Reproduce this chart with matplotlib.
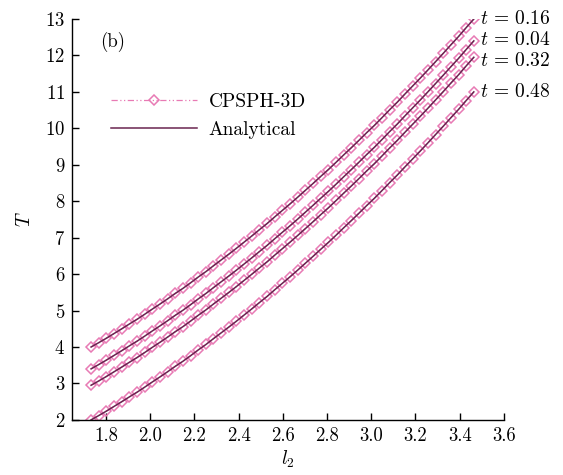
import numpy as np
import matplotlib
matplotlib.use('Agg')
import matplotlib.pyplot as plt

plt.rcParams['font.family'] = 'serif'
plt.rcParams['font.serif'] = ['cmr10', 'DejaVu Serif']
plt.rcParams['mathtext.fontset'] = 'cm'
plt.rcParams['axes.formatter.use_mathtext'] = True

l2 = [1.732, 1.767, 1.801, 1.836, 1.871, 1.905, 1.940, 1.975, 2.009, 2.044,
      2.078, 2.113, 2.148, 2.182, 2.217, 2.252, 2.286, 2.321, 2.356, 2.390,
      2.425, 2.460, 2.494, 2.529, 2.563, 2.598, 2.633, 2.667, 2.702, 2.737,
      2.771, 2.806, 2.841, 2.875, 2.910, 2.944, 2.979, 3.014, 3.048, 3.083,
      3.118, 3.152, 3.187, 3.222, 3.256, 3.291, 3.326, 3.360, 3.395, 3.429,
      3.464]

T_016 = [4.00, 4.12, 4.24, 4.37, 4.50, 4.63, 4.76, 4.90, 5.04, 5.18,
         5.32, 5.47, 5.61, 5.76, 5.92, 6.07, 6.23, 6.39, 6.55, 6.71,
         6.88, 7.05, 7.22, 7.39, 7.57, 7.75, 7.93, 8.11, 8.30, 8.49,
         8.68, 8.87, 9.07, 9.27, 9.47, 9.67, 9.88, 10.08, 10.29, 10.51,
         10.72, 10.94, 11.16, 11.38, 11.60, 11.83, 12.06, 12.29, 12.52, 12.76,
         13.00]
T_004 = [3.40, 3.52, 3.64, 3.77, 3.90, 4.03, 4.16, 4.30, 4.44, 4.58,
         4.72, 4.87, 5.01, 5.16, 5.32, 5.47, 5.63, 5.79, 5.95, 6.11,
         6.28, 6.45, 6.62, 6.79, 6.97, 7.15, 7.33, 7.51, 7.70, 7.89,
         8.08, 8.27, 8.47, 8.67, 8.87, 9.07, 9.28, 9.48, 9.69, 9.91,
         10.12, 10.34, 10.56, 10.78, 11.00, 11.23, 11.46, 11.69, 11.92, 12.16,
         12.40]
T_032 = [2.95, 3.07, 3.19, 3.32, 3.45, 3.58, 3.71, 3.85, 3.99, 4.13,
         4.27, 4.42, 4.56, 4.71, 4.87, 5.02, 5.18, 5.34, 5.50, 5.66,
         5.83, 6.00, 6.17, 6.34, 6.52, 6.70, 6.88, 7.06, 7.25, 7.44,
         7.63, 7.82, 8.02, 8.22, 8.42, 8.62, 8.83, 9.03, 9.24, 9.46,
         9.67, 9.89, 10.11, 10.33, 10.55, 10.78, 11.01, 11.24, 11.47, 11.71,
         11.95]
T_048 = [2.00, 2.12, 2.24, 2.37, 2.50, 2.63, 2.76, 2.90, 3.04, 3.18,
         3.32, 3.47, 3.61, 3.76, 3.92, 4.07, 4.23, 4.39, 4.55, 4.71,
         4.88, 5.05, 5.22, 5.39, 5.57, 5.75, 5.93, 6.11, 6.30, 6.49,
         6.68, 6.87, 7.07, 7.27, 7.47, 7.67, 7.88, 8.08, 8.29, 8.51,
         8.72, 8.94, 9.16, 9.38, 9.60, 9.83, 10.06, 10.29, 10.52, 10.76,
         11.00]

series = [('0.16', T_016, 13.0), ('0.04', T_004, 12.42),
          ('0.32', T_032, 11.85), ('0.48', T_048, 11.0)]

pink = '#e87ab4'
dark = '#6a2450'

fig = plt.figure(figsize=(5.63, 4.75), dpi=100)
ax = fig.add_axes([0.128, 0.116, 0.767, 0.844])

for i, (t, T, ylab) in enumerate(series):
    ax.plot(l2, T, color=pink, linestyle=(0, (5, 2, 1, 2, 1, 2)), lw=0.9,
            marker='D', markersize=5.2, markerfacecolor='none',
            markeredgecolor=pink, markeredgewidth=1.1,
            label='CPSPH-3D' if i == 0 else None)
    ax.plot(l2, T, color=dark, lw=1.1,
            label='Analytical' if i == 0 else None)
    ax.text(3.492, ylab, r'$t\,=\,%s$' % t, fontsize=14, ha='left',
            va='center', clip_on=False)

ax.set_xlim(1.646, 3.6)
ax.set_ylim(2, 13)
ax.set_xticks(np.arange(1.8, 3.61, 0.2))
ax.set_xticklabels(['%.1f' % v for v in np.arange(1.8, 3.61, 0.2)])
ax.set_yticks(range(2, 14))
ax.tick_params(direction='in', labelsize=13.5, length=5, width=1, pad=5)
for s in ['top', 'right']:
    ax.spines[s].set_visible(False)
ax.spines['left'].set_linewidth(1)
ax.spines['bottom'].set_linewidth(1)

ax.set_xlabel('$l_2$', fontsize=14, labelpad=3)
ax.set_ylabel('$T$', fontsize=14, labelpad=8)
ax.text(1.773, 12.37, '(b)', fontsize=13.5, ha='left', va='center')

leg = ax.legend(loc='upper left', bbox_to_anchor=(0.05, 0.86), frameon=False,
                fontsize=14, handlelength=4.4, labelspacing=0.55,
                handletextpad=0.6)

fig.savefig('out.png', dpi=100)
